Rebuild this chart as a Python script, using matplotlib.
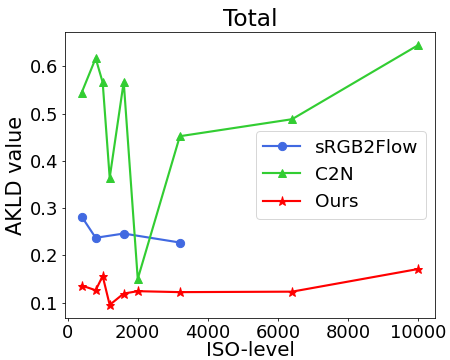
import matplotlib
matplotlib.use("Agg")
import matplotlib.pyplot as plt

# ── Data ──────────────────────────────────────────────────────────────────────
iso_srgb = [400, 800, 1600, 3200]
akld_srgb = [0.282, 0.237, 0.246, 0.227]

iso_c2n = [400, 800, 1000, 1200, 1600, 2000, 3200, 6400, 10000]
akld_c2n = [0.544, 0.617, 0.566, 0.364, 0.567, 0.150, 0.452, 0.488, 0.645]

iso_ours = [400, 800, 1000, 1200, 1600, 2000, 3200, 6400, 10000]
akld_ours = [0.136, 0.126, 0.156, 0.095, 0.119, 0.124, 0.122, 0.123, 0.171]

DPI = 70
fig = plt.figure(figsize=(450 / DPI, 360 / DPI), dpi=DPI)
ax = fig.add_axes([0.144, 0.117, 0.823, 0.794])

ax.plot(iso_srgb, akld_srgb, color="royalblue", marker="o", lw=2.2, ms=8.5, label="sRGB2Flow")
ax.plot(iso_c2n, akld_c2n, color="limegreen", marker="^", lw=2.2, ms=9, label="C2N")
ax.plot(iso_ours, akld_ours, color="red", marker="*", lw=2.2, ms=9.5, label="Ours")

ax.set_title("Total", fontsize=24)
ax.set_xlabel("ISO-level", fontsize=20.5, labelpad=-0.5)
ax.set_ylabel("AKLD value", fontsize=21.5)
ax.tick_params(labelsize=18.5)
ax.tick_params(axis="x", pad=2.5)
ax.legend(loc="center right", fontsize=19)

fig.savefig("out.png", dpi=DPI)
